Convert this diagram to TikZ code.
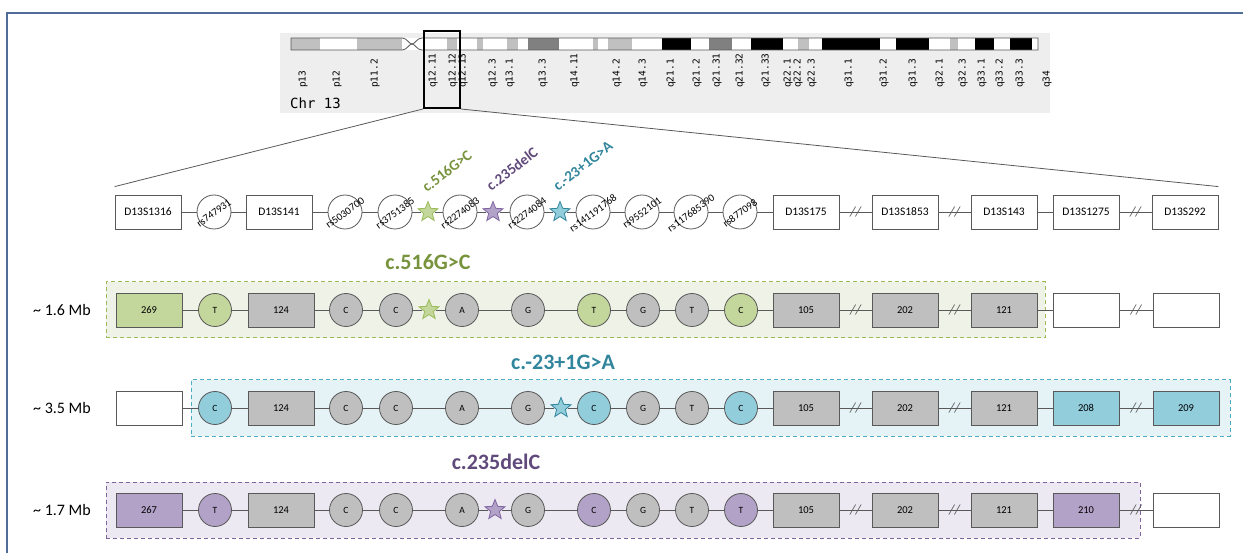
\documentclass[tikz,border=0pt]{standalone}
\usepackage{fontspec}
\setmainfont{Carlito}
\newfontfamily\bandfont{DejaVu Sans Mono}
\usetikzlibrary{shapes.geometric}

\definecolor{frameblue}{RGB}{79,109,151}
\definecolor{ideobg}{RGB}{238,238,238}
\definecolor{bandlt}{RGB}{192,192,192}
\definecolor{banddk}{RGB}{128,128,128}
\definecolor{linegray}{RGB}{89,89,89}
\definecolor{boxgray}{RGB}{191,191,191}
\definecolor{grnfill}{RGB}{195,214,155}
\definecolor{grntext}{RGB}{119,147,60}
\definecolor{grndash}{RGB}{155,187,89}
\definecolor{grnbg}{RGB}{239,243,231}
\definecolor{cyafill}{RGB}{146,205,220}
\definecolor{cyatext}{RGB}{49,133,156}
\definecolor{cyadash}{RGB}{75,172,198}
\definecolor{cyabg}{RGB}{229,242,246}
\definecolor{purfill}{RGB}{179,162,199}
\definecolor{purtext}{RGB}{96,74,123}
\definecolor{purdash}{RGB}{128,100,162}
\definecolor{purbg}{RGB}{236,233,242}

\begin{document}
\begin{tikzpicture}[
  x=1pt, y=-1pt,
  font=\fontsize{11.5}{13}\selectfont,
  mbox/.style   = {rectangle, draw=linegray, fill=white, minimum width=66pt,
                   minimum height=34pt, inner sep=0pt, line width=0.8pt},
  snp/.style    = {circle, draw=linegray, fill=white, minimum size=34pt,
                   inner sep=0pt, line width=0.8pt},
  rslab/.style  = {rotate=36, font=\fontsize{10.5}{11}\selectfont, inner sep=0pt},
  hbox/.style   = {mbox, fill=boxgray, font=\fontsize{10.5}{12}\selectfont},
  hcirc/.style  = {snp, fill=boxgray, minimum size=33pt, font=\fontsize{9.5}{10}\selectfont},
  mut/.style    = {star, star points=5, star point ratio=2.3, minimum size=21pt,
                   inner sep=0pt, line width=0.8pt},
  link/.style   = {linegray, line width=0.8pt},
  brk/.style    = {font=\fontsize{14}{14}\selectfont\itshape, inner sep=0pt, text=linegray},
  grp/.style    = {dash pattern=on 4pt off 3pt, line width=1pt, minimum height=56pt, inner sep=0pt},
  mutlab/.style = {font=\fontsize{22}{24}\selectfont\bfseries},
  toplab/.style = {rotate=38, font=\fontsize{15}{17}\selectfont\bfseries},
  sizelab/.style= {font=\fontsize{16}{18}\selectfont},
  bandlab/.style= {rotate=90, anchor=west, inner sep=0pt, font=\bandfont\fontsize{9.5}{9.5}\selectfont}
]
\useasboundingbox (0,0) rectangle (1243,553);

% --- Frame -------------------------------------------------------------------
\draw[frameblue, line width=1.5pt] (1243,13) -- (7,13) -- (7,553);

% --- Ideogram chr 13 ---------------------------------------------------------
\node[fill=ideobg, minimum width=770pt, minimum height=80pt, inner sep=0pt,
      anchor=north west] (ideo) at (280,33) {};
\foreach \a/\b/\c in {291/320/bandlt, 320/357/white, 357/402/bandlt, 402/422/white,
    422/447/white, 447/457/bandlt, 457/477/white, 477/483/bandlt, 483/507/white,
    507/518/bandlt, 518/528/white, 528/559/banddk, 559/593/white, 593/598/bandlt,
    598/608/white, 608/632/bandlt, 632/662/white, 662/691/black, 691/709/white,
    709/732/banddk, 732/751/white, 751/783/black, 783/798/white, 798/809/bandlt,
    809/822/white, 822/880/black, 880/896/white, 896/929/black, 929/950/white,
    950/958/bandlt, 958/975/white, 975/994/black, 994/1010/white, 1010/1032/black,
    1032/1038/white}
  \fill[\c] (\a,38) rectangle (\b,50);
\draw[linegray, line width=0.8pt]
  (402,38) -- (291,38) -- (291,50) -- (402,50)
  (402,38) .. controls (407,38) and (409,44) .. (412,44) .. controls (415,44) and (417,38) .. (422,38)
  (402,50) .. controls (407,50) and (409,44) .. (412,44) .. controls (415,44) and (417,50) .. (422,50)
  (422,38) -- (1038,38) -- (1038,50) -- (422,50);
\foreach \x/\t in {303/p13, 337/p12, 375/p11.2, 433/q12.11, 453/q12.12, 463/q12.13,
    493/q12.3, 510/q13.1, 543/q13.3, 575/q14.11, 617/q14.2, 643/q14.3, 671/q21.1,
    697/q21.2, 717/q21.31, 740/q21.32, 766/q21.33, 788/q22.1, 798/q22.2, 812/q22.3,
    849/q31.1, 884/q31.2, 913/q31.3, 940/q32.1, 963/q32.3, 982/q33.1, 1000/q33.2,
    1020/q33.3, 1047/q34}
  \node[bandlab] (band\x) at (\x,88) {\t};
\node[anchor=west, inner sep=0pt, font=\bandfont\fontsize{14}{14}\selectfont] (chr) at (290,103) {Chr 13};
\node[draw=black, line width=2pt, minimum width=36pt, minimum height=77pt, inner sep=0pt,
      anchor=north west] (sel) at (423,30) {};

% --- Marker row --------------------------------------------------------------
\node[mbox] (d1316) at (148,212) {D13S1316};
\node[snp]  (rs1)   at (214,212) {};
\node[mbox] (d141)  at (279,212) {D13S141};
\node[snp]  (rs2)   at (345,212) {};
\node[snp]  (rs3)   at (395,212) {};
\node[mut, fill=grnfill, draw=grndash] (st1) at (428,212) {};
\node[snp]  (rs4)   at (460,212) {};
\node[mut, fill=purfill, draw=purdash] (st2) at (493,212) {};
\node[snp]  (rs5)   at (527,212) {};
\node[mut, fill=cyafill, draw=cyatext] (st3) at (560,212) {};
\node[snp]  (rs6)   at (593,212) {};
\node[snp]  (rs7)   at (642,212) {};
\node[snp]  (rs8)   at (691,212) {};
\node[snp]  (rs9)   at (740,212) {};
\node[mbox] (d175)  at (806,212) {D13S175};
\node[mbox] (d1853) at (905,212) {D13S1853};
\node[mbox] (d143)  at (1004,212) {D13S143};
\node[mbox] (d1275) at (1086,212) {D13S1275};
\node[mbox] (d292)  at (1185,212) {D13S292};

\node[rslab] (rs1t) at ([yshift=-1pt]rs1) {rs747931};
\node[rslab] (rs2t) at ([yshift=-1pt]rs2) {rs5030700};
\node[rslab] (rs3t) at ([yshift=-1pt]rs3) {rs3751385};
\node[rslab] (rs4t) at ([yshift=-1pt]rs4) {rs2274083};
\node[rslab] (rs5t) at ([yshift=-1pt]rs5) {rs2274084};
\node[rslab] (rs6t) at ([yshift=-1pt]rs6) {rs141191768};
\node[rslab] (rs7t) at ([yshift=-1pt]rs7) {rs9552101};
\node[rslab] (rs8t) at ([yshift=-1pt]rs8) {rs117685390};
\node[rslab] (rs9t) at ([yshift=-1pt]rs9) {rs877098};

\node[toplab, text=grntext] (tl1) at (447,171) {c.516G>C};
\node[toplab, text=purtext] (tl2) at (512,169) {c.235delC};
\node[toplab, text=cyatext] (tl3) at (583,166) {c.-23+1G>A};

\draw[link] (d1316) -- (rs1) -- (d141) -- (rs2) -- (rs3) -- (st1) -- (rs4) -- (st2)
  -- (rs5) -- (st3) -- (rs6) -- (rs7) -- (rs8) -- (rs9) -- (d175)
  -- node[brk] (b0a) {//} (d1853) -- node[brk] (b0b) {//} (d143) -- (d1275)
  -- node[brk] (b0c) {//} (d292);

% --- Zoom lines --------------------------------------------------------------
\draw[linegray, line width=0.8pt] (sel.south west) -- ([yshift=8pt]d1316.north west);
\draw[linegray, line width=0.8pt] (sel.south east) -- ([yshift=8pt]d292.north east);

% --- Haplotype ~1.6 Mb (c.516G>C) ---------------------------------------------
\node[grp, draw=grndash, fill=grnbg, minimum width=939pt] (grp1) at (575.5,310) {};
\node[mutlab, text=grntext] (lab1) at (428,262) {c.516G>C};
\node[sizelab] (size1) at (62,310) {\textasciitilde{} 1.6 Mb};
\node[hbox, fill=grnfill] (r1a) at (149,310) {269};
\node[hcirc, fill=grnfill] (r1b) at (215,310) {T};
\node[hbox]  (r1c) at (281,310) {124};
\node[hcirc] (r1d) at (346,310) {C};
\node[hcirc] (r1e) at (396,310) {C};
\node[mut, fill=grnfill, draw=grndash] (r1s) at (429,310) {};
\node[hcirc] (r1f) at (462,310) {A};
\node[hcirc] (r1g) at (528,310) {G};
\node[hcirc, fill=grnfill] (r1h) at (594,310) {T};
\node[hcirc] (r1i) at (643,310) {G};
\node[hcirc] (r1j) at (692,310) {T};
\node[hcirc, fill=grnfill] (r1k) at (741,310) {C};
\node[hbox]  (r1l) at (806,310) {105};
\node[hbox]  (r1m) at (905,310) {202};
\node[hbox]  (r1n) at (1004,310) {121};
\node[hbox, fill=white] (r1o) at (1086,310) {};
\node[hbox, fill=white] (r1p) at (1186,310) {};
\draw[link] (r1a) -- (r1b) -- (r1c) -- (r1d) -- (r1e) -- (r1s) -- (r1f) -- (r1g) -- (r1h)
  -- (r1i) -- (r1j) -- (r1k) -- (r1l) -- node[brk] (b1a) {//} (r1m)
  -- node[brk] (b1b) {//} (r1n) -- (r1o) -- node[brk] (b1c) {//} (r1p);

% --- Haplotype ~3.5 Mb (c.-23+1G>A) -------------------------------------------
\node[grp, draw=cyadash, fill=cyabg, minimum width=1039pt] (grp2) at (710.5,408) {};
\node[mutlab, text=cyatext] (lab2) at (563,362) {c.-23+1G>A};
\node[sizelab] (size2) at (62,408) {\textasciitilde{} 3.5 Mb};
\node[hbox, fill=white] (r2a) at (149,408) {};
\node[hcirc, fill=cyafill] (r2b) at (215,408) {C};
\node[hbox]  (r2c) at (281,408) {124};
\node[hcirc] (r2d) at (346,408) {C};
\node[hcirc] (r2e) at (396,408) {C};
\node[hcirc] (r2f) at (462,408) {A};
\node[hcirc] (r2g) at (528,408) {G};
\node[mut, fill=cyafill, draw=cyatext] (r2s) at (561,408) {};
\node[hcirc, fill=cyafill] (r2h) at (594,408) {C};
\node[hcirc] (r2i) at (643,408) {G};
\node[hcirc] (r2j) at (692,408) {T};
\node[hcirc, fill=cyafill] (r2k) at (741,408) {C};
\node[hbox]  (r2l) at (806,408) {105};
\node[hbox]  (r2m) at (905,408) {202};
\node[hbox]  (r2n) at (1004,408) {121};
\node[hbox, fill=cyafill] (r2o) at (1086,408) {208};
\node[hbox, fill=cyafill] (r2p) at (1186,408) {209};
\draw[link] (r2a) -- (r2b) -- (r2c) -- (r2d) -- (r2e) -- (r2f) -- (r2g) -- (r2s) -- (r2h)
  -- (r2i) -- (r2j) -- (r2k) -- (r2l) -- node[brk] (b2a) {//} (r2m)
  -- node[brk] (b2b) {//} (r2n) -- (r2o) -- node[brk] (b2c) {//} (r2p);

% --- Haplotype ~1.7 Mb (c.235delC) --------------------------------------------
\node[grp, draw=purdash, fill=purbg, minimum width=1034pt] (grp3) at (623,510) {};
\node[mutlab, text=purtext] (lab3) at (496,462) {c.235delC};
\node[sizelab] (size3) at (62,510) {\textasciitilde{} 1.7 Mb};
\node[hbox, fill=purfill] (r3a) at (149,510) {267};
\node[hcirc, fill=purfill] (r3b) at (215,510) {T};
\node[hbox]  (r3c) at (281,510) {124};
\node[hcirc] (r3d) at (346,510) {C};
\node[hcirc] (r3e) at (396,510) {C};
\node[hcirc] (r3f) at (462,510) {A};
\node[mut, fill=purfill, draw=purdash] (r3s) at (495,510) {};
\node[hcirc] (r3g) at (528,510) {G};
\node[hcirc, fill=purfill] (r3h) at (594,510) {C};
\node[hcirc] (r3i) at (643,510) {G};
\node[hcirc] (r3j) at (692,510) {T};
\node[hcirc, fill=purfill] (r3k) at (741,510) {T};
\node[hbox]  (r3l) at (806,510) {105};
\node[hbox]  (r3m) at (905,510) {202};
\node[hbox]  (r3n) at (1004,510) {121};
\node[hbox, fill=purfill] (r3o) at (1086,510) {210};
\node[hbox, fill=white] (r3p) at (1186,510) {};
\draw[link] (r3a) -- (r3b) -- (r3c) -- (r3d) -- (r3e) -- (r3f) -- (r3s) -- (r3g) -- (r3h)
  -- (r3i) -- (r3j) -- (r3k) -- (r3l) -- node[brk] (b3a) {//} (r3m)
  -- node[brk] (b3b) {//} (r3n) -- (r3o) -- node[brk] (b3c) {//} (r3p);

\end{tikzpicture}
\end{document}
